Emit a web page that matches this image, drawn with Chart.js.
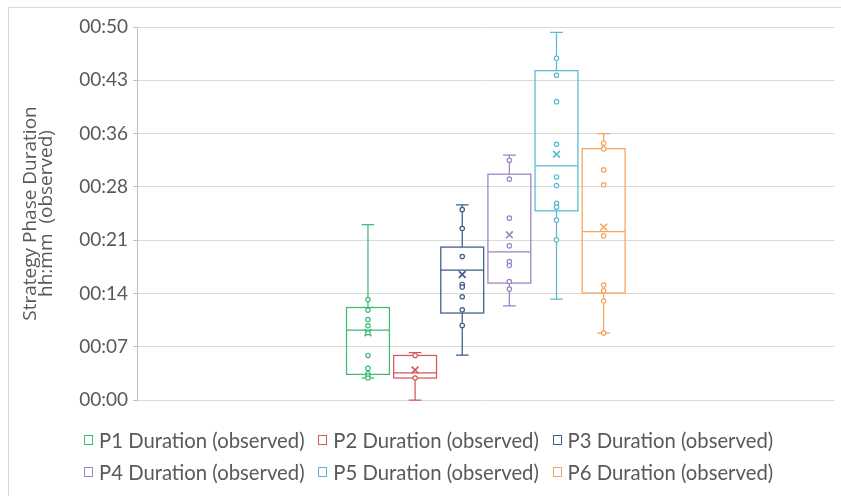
<!DOCTYPE html>
<html>
<head>
<meta charset="utf-8">
<script src="https://cdn.jsdelivr.net/npm/chart.js@4.4.0/dist/chart.umd.min.js"></script>
<style>
  body { margin: 0; background: #fff; }
  #wrap { position: relative; width: 841px; height: 496px; overflow: hidden; }
  #frame { position: absolute; left: 8px; top: 7px; width: 900px; height: 600px;
           border-left: 1px solid #d9d9d9; border-top: 1px solid #d9d9d9; }
  #durationChart { position: absolute; left: 0; top: 0; }
  #legend { position: absolute; left: 84px; top: 424px; display: grid;
            grid-template-columns: repeat(3, 234.3px); grid-auto-rows: 31.7px;
            font-family: Lato, sans-serif; font-size: 20.3px; color: #595959; }
  .legendItem { display: flex; align-items: center; white-space: nowrap; }
  .legendBox { width: 9px; height: 10px; box-sizing: border-box; border: 1px solid; margin-right: 6px; background: #fff; }
</style>
</head>
<body>
<div id="wrap">
  <div id="frame"></div>
  <canvas id="durationChart" width="841" height="496"></canvas>
  <div id="legend"></div>
</div>
<script>
// series names and where each box sits on the (hidden) x axis
const seriesNames = ['P1 Duration (observed)', 'P2 Duration (observed)', 'P3 Duration (observed)',
                     'P4 Duration (observed)', 'P5 Duration (observed)', 'P6 Duration (observed)'];
const seriesX = [1, 2, 3, 4, 5, 6];
const seriesColors = ['#3dbb74', '#d25a5a', '#3d5a8a', '#9a82c4', '#5bbad3', '#f6a35c'];

// box statistics, in minutes
const whiskerLow  = [2.97, 0.00, 6.08, 12.73, 13.64, 9.05];
const q1          = [3.46, 2.97, 11.75, 15.80, 25.56, 14.45];
const median      = [9.45, 3.65, 17.55, 20.02, 31.63, 22.76];
const q3          = [12.50, 6.02, 20.66, 30.51, 44.50, 33.97];
const whiskerHigh = [23.70, 6.39, 26.37, 33.08, 49.68, 36.00];
const means       = [9.09, 4.05, 16.96, 22.32, 33.21, 23.36];

// observed points (inner points), in minutes
const pointsP1 = [13.58, 12.15, 10.88, 10.03, 9.09, 6.02, 4.27, 3.59, 3.28, 2.97];
const pointsP2 = [6.02, 2.97];
const pointsP3 = [25.73, 23.17, 19.39, 15.61, 15.26, 13.95, 12.19, 10.07];
const pointsP4 = [32.40, 29.84, 24.57, 20.83, 18.71, 18.17, 16.01, 14.99];
const pointsP5 = [46.17, 43.88, 40.31, 34.56, 30.14, 28.97, 26.57, 26.06, 24.30, 21.64];
const pointsP6 = [34.70, 33.93, 31.09, 29.07, 22.18, 15.53, 14.76, 13.37, 9.05];
const allPoints = [pointsP1, pointsP2, pointsP3, pointsP4, pointsP5, pointsP6];

// y axis ticks (minutes) and their labels
const yTickValues = [0, 7.2, 14.4, 21.6, 28.8, 36, 43.2, 50.4];
const yTickLabels = ['00:00', '00:07', '00:14', '00:21', '00:28', '00:36', '00:43', '00:50'];

const boxHalf = 0.455;  // half box width, x units
const capHalf = 0.135;  // half whisker cap width, x units

// draws boxes, medians and whiskers behind the points
const boxPlotPlugin = {
  id: 'boxPlot',
  beforeDatasetsDraw(chart) {
    const {ctx, scales: {x, y}} = chart;
    ctx.save();
    ctx.lineWidth = 1.25;
    for (let i = 0; i < seriesX.length; i++) {
      const cx = x.getPixelForValue(seriesX[i]);
      const left = x.getPixelForValue(seriesX[i] - boxHalf);
      const right = x.getPixelForValue(seriesX[i] + boxHalf);
      const capL = x.getPixelForValue(seriesX[i] - capHalf);
      const capR = x.getPixelForValue(seriesX[i] + capHalf);
      const yQ1 = y.getPixelForValue(q1[i]);
      const yQ3 = y.getPixelForValue(q3[i]);
      const yMed = y.getPixelForValue(median[i]);
      const yLo = y.getPixelForValue(whiskerLow[i]);
      const yHi = y.getPixelForValue(whiskerHigh[i]);
      ctx.strokeStyle = seriesColors[i];
      ctx.beginPath();
      // whiskers
      ctx.moveTo(cx, yQ3); ctx.lineTo(cx, yHi);
      ctx.moveTo(capL, yHi); ctx.lineTo(capR, yHi);
      ctx.moveTo(cx, yQ1); ctx.lineTo(cx, yLo);
      ctx.moveTo(capL, yLo); ctx.lineTo(capR, yLo);
      // median
      ctx.moveTo(left, yMed); ctx.lineTo(right, yMed);
      ctx.stroke();
      ctx.strokeRect(left, yQ3, right - left, yQ1 - yQ3);
    }
    ctx.restore();
  }
};

const datasets = allPoints.map((pts, i) => ({
  label: seriesNames[i],
  data: pts.map(v => ({x: seriesX[i], y: v})),
  pointStyle: 'circle',
  pointRadius: 2.2,
  borderWidth: 1.2,
  borderColor: seriesColors[i],
  backgroundColor: '#ffffff'
}));
datasets.push({
  label: 'Mean',
  data: means.map((v, i) => ({x: seriesX[i], y: v})),
  pointStyle: 'crossRot',
  pointRadius: 4.8,
  borderWidth: 1.6,
  borderColor: seriesColors,
  backgroundColor: seriesColors
});

const chart = new Chart(document.getElementById('durationChart'), {
  type: 'scatter',
  data: { datasets: datasets },
  plugins: [boxPlotPlugin],
  options: {
    responsive: false,
    animation: false,
    layout: { padding: { top: 27, right: 3, bottom: 96, left: 0 } },
    plugins: {
      legend: { display: false },
      tooltip: { enabled: false }
    },
    scales: {
      x: { type: 'linear', min: -3.9, max: 10.9, display: false },
      y: {
        min: 0,
        max: 50.4,
        afterFit: (scale) => { scale.width = 137; },
        afterBuildTicks: (scale) => { scale.ticks = yTickValues.map(v => ({value: v})); },
        ticks: {
          padding: 5,
          color: '#595959',
          font: { family: 'Lato', size: 19 },
          callback: (value, index) => yTickLabels[index]
        },
        grid: { color: '#d9d9d9', tickColor: '#bfbfbf', tickLength: 4 },
        border: { display: true, color: '#bfbfbf' },
        title: {
          display: true,
          text: ['Strategy Phase Duration', 'hh:mm  (observed)'],
          color: '#595959',
          font: { family: 'Open Sans', size: 19, lineHeight: 0.84 },
          padding: { top: 23, bottom: 0 }
        }
      }
    }
  }
});

// html legend built from the chart's point datasets
const legendDiv = document.getElementById('legend');
chart.data.datasets.slice(0, seriesNames.length).forEach((ds) => {
  const item = document.createElement('div');
  item.classList.add('legendItem');
  const box = document.createElement('span');
  box.classList.add('legendBox');
  box.style.borderColor = ds.borderColor;
  const text = document.createElement('span');
  text.textContent = ds.label;
  item.appendChild(box);
  item.appendChild(text);
  legendDiv.appendChild(item);
});
</script>
</body>
</html>
